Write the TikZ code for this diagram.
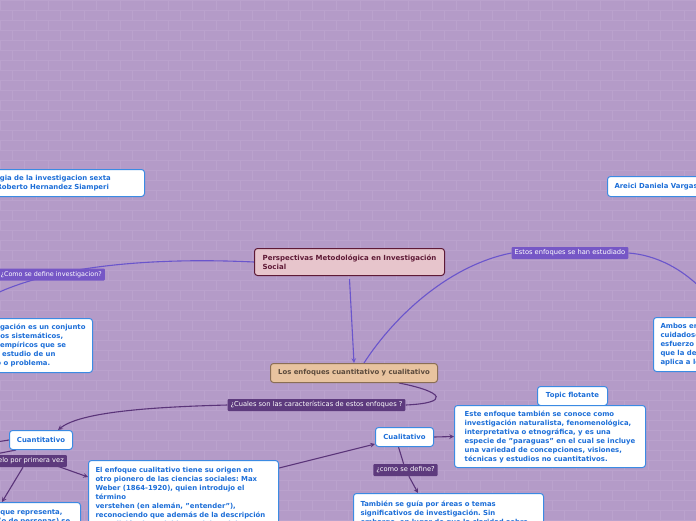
\documentclass[tikz,border=0pt]{standalone}
\usepackage{fontspec}
\setmainfont{DejaVu Sans}
\usepackage{xcolor}
\usepackage{tikz}
\usetikzlibrary{arrows,positioning,calc}

\definecolor{bgpurple}{HTML}{B49BC8}
\definecolor{brick}{HTML}{BAA2CD}
\definecolor{topicblue}{HTML}{3B8BE3}
\definecolor{textblue}{HTML}{1C6ED8}
\definecolor{linkblue}{HTML}{6A55CC}
\definecolor{linkdark}{HTML}{5A3479}
\definecolor{lblblue}{HTML}{7657C6}
\definecolor{lbldark}{HTML}{5D3A7D}
\definecolor{mainfill}{HTML}{E7C5CC}
\definecolor{maindraw}{HTML}{5E1A36}
\definecolor{enffill}{HTML}{E8C39F}
\definecolor{enfdraw}{HTML}{8A6E55}
\definecolor{enftext}{HTML}{5B4A3C}

\frenchspacing
\newcommand\topicfont{\bfseries\fontsize{6.9}{9}\selectfont}
\newcommand\rootfont{\bfseries\fontsize{7}{8.5}\selectfont}
\newcommand\qfont{\fontsize{6.7}{7}\selectfont}

\pgfdeclarelayer{bg}
\pgfdeclarelayer{edges}
\pgfsetlayers{bg,edges,main}

\begin{document}
\begin{tikzpicture}[x=1pt, y=-1pt,
    topic/.style={rectangle, rounded corners=3pt, draw=topicblue, line width=1pt, fill=white, text=textblue, font=\topicfont, align=left, inner xsep=7pt, inner ysep=4pt},
    rootbox/.style={topic, draw=maindraw, fill=mainfill, text=maindraw, font=\rootfont},
    enfbox/.style={topic, draw=enfdraw, fill=enffill, text=enftext, align=center},
    qlabel/.style={rectangle, rounded corners=1pt, fill=lblblue, text=white, font=\qfont, inner xsep=3pt, inner ysep=2pt, minimum height=12pt},
    qdark/.style={qlabel, fill=lbldark},
    link/.style={draw=linkblue, line width=1.1pt},
    dlink/.style={draw=linkdark, line width=1.1pt}]

    \useasboundingbox (0,0) rectangle (696,520);

    % fondo de ladrillos
    \begin{pgfonlayer}{bg}
    \fill[bgpurple] (0,0) rectangle (696,520);
    \foreach \r in {0,...,52}{
        \draw[brick, line width=0.6pt] (0,\r*10) -- (696,\r*10);
        \pgfmathsetmacro\off{mod(\r,2)*12}
        \foreach \c in {0,...,29}
            \draw[brick, line width=0.6pt] (\c*24+\off,\r*10) -- ++(0,10);
    }
    \end{pgfonlayer}

    % Tema central
    \node[rootbox, anchor=north west, minimum width=190pt, minimum height=27pt] (root) at (254,248) {Perspectivas Metodológica en Investigación\\Social};
    \node[enfbox, anchor=north west, minimum width=167pt, minimum height=19pt] (enfoques) at (270,363) {Los enfoques cuantitativo y cualitativo};

    % Lado izquierdo
    \node[topic, anchor=north east, text width=174pt, minimum height=27pt] (libro) at (145,169) {Metodologia de la investigacion sexta\\edición: Roberto Hernandez Siamperi};
    \node[qlabel, anchor=east, font=\fontsize{6.4}{7}\selectfont] (defq) at (105,274.5) {¿Como se define investigacion?};
    \node[topic, anchor=north east, minimum height=54pt] (defin) at (93,318) {La investigación es un conjunto\\de procesos sistemáticos,\\críticos y empíricos que se\\aplican al estudio de un\\fenómeno o problema.};

    % Lado derecho
    \node[topic, anchor=north west, minimum height=20pt] (autora) at (607,176) {Areici Daniela Vargas};
    \node[qlabel] (estq) at (570,253) {Estos enfoques se han estudiado};
    \node[topic, anchor=north west, minimum height=54pt] (ambos) at (653,317) {Ambos enfoques emplean procesos\\cuidadosos, metódicos y empíricos en su\\esfuerzo para generar conocimiento, por lo\\que la definición previa de investigación se\\aplica a los dos por igual.};

    % Caracteristicas
    \node[qdark] (cualesq) at (316.5,405) {¿Cuales son las características de estos enfoques ?};
    \node[topic, anchor=north west, minimum width=63pt, minimum height=19pt, align=center] (cuanti) at (9,430) {Cuantitativo};
    \node[qdark, anchor=east] (primq) at (67,461) {¿Quién utilizó este modelo por primera vez};
    \node[topic, anchor=north east, text width=124.5pt, inner ysep=7pt] (muestra) at (81,502) {una muestra que representa,\\la población (o de personas) se};
    \node[topic, anchor=north west, text width=176pt, inner ysep=7pt] (weber) at (88,460) {El enfoque cualitativo tiene su origen en\\otro pionero de las ciencias sociales: Max\\Weber (1864-1920), quien introdujo el\\término\\verstehen (en alemán, "entender"),\\reconociendo que además de la descripción\\y medición de variables sociales, deben};

    \node[topic, anchor=north west, minimum width=58pt, minimum height=19pt, align=center] (cuali) at (375,427) {Cualitativo};
    \node[topic, anchor=north west, minimum width=70pt, minimum height=19pt, align=center] (flotante) at (537,386) {Topic flotante};
    \node[topic, anchor=north west, minimum width=191pt, minimum height=62pt] (este) at (454,405) {Este enfoque también se conoce como\\investigación naturalista, fenomenológica,\\interpretativa o etnográfica, y es una\\especie de "paraguas" en el cual se incluye\\una variedad de concepciones, visiones,\\técnicas y estudios no cuantitativos.};
    \node[qdark] (comoq) at (405.5,470) {¿como se define?};
    \node[topic, anchor=north west, text width=176pt, inner ysep=7pt] (tambien) at (353,493) {También se guía por áreas o temas\\significativos de investigación. Sin\\embargo, en lugar de que la claridad sobre};

    \coordinate (defend) at (-20,302);
    \coordinate (ambosin) at (712,300);
    \coordinate (cuantiin) at (-10,443);

    % Conectores
    \begin{pgfonlayer}{edges}
    \draw[link, -stealth] ([yshift=-3pt]root.south) -- (enfoques.north);
    \draw[link] (root.west) .. controls (150,257) and (40,266) .. (defend);
    \draw[link] ([xshift=10pt]enfoques.north) .. controls (395,315) and (450,265) .. (estq.west);
    \draw[link] (estq.east) .. controls (655,255) and (685,268) .. (ambosin);

    \draw[dlink] ([xshift=45pt]enfoques.south) .. controls (445,392) and (450,403) .. (cualesq.east);
    \draw[dlink, -stealth] (cualesq.west) .. controls (150,407) and (80,412) .. ([xshift=17pt]cuanti.north);
    \draw[dlink] (cuantiin) -- (cuanti.west);
    \draw[dlink] ([xshift=-25pt]cuanti.south) -- (primq.north);
    \draw[dlink, -stealth] ([xshift=-24pt]primq.east) -- ([yshift=-17pt]weber.north west);
    \draw[dlink, -stealth] ([xshift=-44pt]primq.south east) -- ([xshift=-79pt]muestra.north east);
    \draw[dlink, -stealth] ([yshift=-8pt]weber.north east) -- ([yshift=3pt]cuali.south west);
    \draw[dlink, -stealth] (cuali.east) -- (este.west);
    \draw[dlink] ([xshift=-6pt]cuali.south) -- (comoq);
    \draw[dlink, -stealth] (comoq) -- ([xshift=65pt]tambien.north west);
    \end{pgfonlayer}
\end{tikzpicture}
\end{document}
